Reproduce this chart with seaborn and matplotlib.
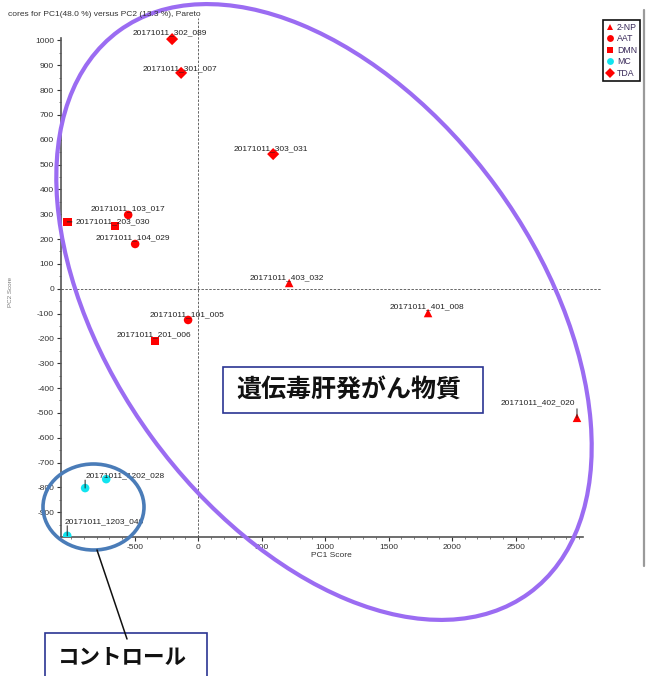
import matplotlib
matplotlib.use("Agg")
import matplotlib.pyplot as plt
from matplotlib.patches import Ellipse, Rectangle
from matplotlib.ticker import FixedLocator
import pandas as pd
import seaborn as sns

# ---- data -------------------------------------------------------------
sample_ids = ["20171011_302_089", "20171011_301_007", "20171011_303_031",
              "20171011_103_017", "20171011_203_030", "20171011_202_x",
              "20171011_104_029", "20171011_403_032", "20171011_401_008",
              "20171011_101_005", "20171011_201_006", "20171011_402_020",
              "20171011_1202_028", "20171011_1201_x", "20171011_1203_040"]
groups = ["TDA", "TDA", "TDA", "AAT", "DMN", "DMN", "AAT", "2-NP", "2-NP",
          "AAT", "DMN", "2-NP", "MC", "MC", "MC"]
pc1 = [-205, -134, 591, -551, -1031, -654, -496, 717, 1811,
       -79, -339, 2984, -890, -724, -1031]
pc2 = [1005, 869, 542, 297, 269, 253, 180, 23, -98,
       -126, -211, -520, -803, -767, -995]
shown_labels = ["20171011_302_089", "20171011_301_007", "20171011_303_031",
                "20171011_103_017", "20171011_203_030", "",
                "20171011_104_029", "20171011_403_032", "20171011_401_008",
                "20171011_101_005", "20171011_201_006", "20171011_402_020",
                "20171011_1202_028", "", "20171011_1203_040"]
group_order = ["2-NP", "AAT", "DMN", "MC", "TDA"]
y_ticks = [1000, 900, 800, 700, 600, 500, 400, 300, 200, 100, 0,
           -100, -200, -300, -400, -500, -600, -700, -800, -900]
x_ticks = [-500, 0, 500, 1000, 1500, 2000, 2500]

df = pd.DataFrame({"sample": sample_ids, "group": groups,
                   "PC1": pc1, "PC2": pc2, "label": shown_labels})

# ---- style ------------------------------------------------------------
sns.set_style("white")
plt.rcParams["font.family"] = ["Liberation Sans", "DejaVu Sans"]
plt.rcParams["axes.unicode_minus"] = False
jp_font = ["Noto Sans CJK JP", "DejaVu Sans"]

W, H = 652, 676
fig = plt.figure(figsize=(W / 100, H / 100), dpi=100)
fig.patch.set_facecolor("white")

# main score plot, placed in pixel terms
x0, x1, y0, y1 = 61, 602, 18, 537
ax = fig.add_axes([x0 / W, 1 - y1 / H, (x1 - x0) / W, (y1 - y0) / H])

palette = {"2-NP": "#ff0000", "AAT": "#ff0000", "DMN": "#ff0000",
           "MC": "#11e4ef", "TDA": "#ff0000"}
markers = {"2-NP": "^", "AAT": "o", "DMN": "s", "MC": "o", "TDA": "D"}

sns.scatterplot(data=df, x="PC1", y="PC2", hue="group", style="group",
                hue_order=group_order, style_order=group_order,
                palette=palette, markers=markers, s=38, linewidth=0,
                ax=ax, zorder=3)

ax.set_xlim(-1080, 3181)
ax.set_ylim(-1000, 1090)
ax.xaxis.set_major_locator(FixedLocator(x_ticks))
ax.yaxis.set_major_locator(FixedLocator(y_ticks))
ax.xaxis.set_minor_locator(FixedLocator(list(range(-1000, 3001, 100))))
ax.yaxis.set_minor_locator(FixedLocator(list(range(-950, 1001, 50))))
ax.tick_params(axis="both", which="major", labelsize=6, colors="#333333",
               length=3, width=0.8, direction="out", pad=2)
ax.tick_params(axis="both", which="minor", length=1.6, width=0.6,
               colors="#666666", direction="out")
ax.tick_params(axis="x", which="both", bottom=True)
ax.tick_params(axis="y", which="both", left=True)

for side in ["top", "right"]:
    ax.spines[side].set_visible(False)
for side in ["left", "bottom"]:
    ax.spines[side].set_color("#555555")
    ax.spines[side].set_linewidth(1.2)
ax.spines["bottom"].set_bounds(-1080, 3030)
ax.spines["left"].set_bounds(-1000, 1010)

ax.axhline(0, color="#666666", lw=0.7, ls=(0, (2.5, 1.5)), zorder=1)
ax.axvline(0, color="#666666", lw=0.7, ls=(0, (2.5, 1.5)), zorder=1)

ax.set_xlabel("PC1 Score", fontsize=6, color="#333333", labelpad=1)
ax.set_ylabel("")

# sample labels
px = 0.72  # points per pixel
centered = {
    "20171011_302_089": (-2, 6), "20171011_301_007": (-1, 4),
    "20171011_303_031": (-2, 5), "20171011_103_017": (0, 6),
    "20171011_104_029": (-2, 6), "20171011_403_032": (-2, 5),
    "20171011_401_008": (-1, 6), "20171011_101_005": (-1, 5),
    "20171011_201_006": (-1, 6),
}
lbl_kw = dict(fontsize=6, color="#222222", textcoords="offset points", zorder=4)
for _, r in df.iterrows():
    name = r["label"]
    if not name:
        continue
    xy = (r["PC1"], r["PC2"])
    if name in centered:
        dx, dy = centered[name]
        ax.annotate(name, xy, xytext=(dx * px, dy * px), ha="center",
                    va="center", **lbl_kw)
    elif name == "20171011_203_030":
        ax.annotate(name, xy, xytext=(8 * px, 0), ha="left", va="center",
                    arrowprops=dict(arrowstyle="-", color="#222222", lw=0.7,
                                    shrinkA=0, shrinkB=0), **lbl_kw)
    elif name == "20171011_402_020":
        ax.annotate(name, xy, xytext=(-2 * px, 15 * px), ha="right",
                    va="center", **lbl_kw)
        ax.annotate("", xy, xytext=(0, 9 * px), textcoords="offset points",
                    arrowprops=dict(arrowstyle="-", color="#222222", lw=0.7,
                                    shrinkA=0, shrinkB=0))
    else:
        dx = 0 if name == "20171011_1202_028" else -3
        dy = 12 if name == "20171011_1202_028" else 14
        ax.annotate(name, xy, xytext=(dx * px, dy * px), ha="left",
                    va="center", **lbl_kw)
        ax.annotate("", xy, xytext=(0, (dy - 4) * px),
                    textcoords="offset points",
                    arrowprops=dict(arrowstyle="-", color="#222222", lw=0.7,
                                    shrinkA=0, shrinkB=0))

# legend box at the top right
sns.move_legend(ax, "upper left", bbox_to_anchor=(603 / W, 1 - 20 / H),
                bbox_transform=fig.transFigure, title=None, frameon=True,
                fontsize=6.3, markerscale=0.8, handlelength=1.0,
                handletextpad=0.3, labelspacing=0.3, borderpad=0.3,
                borderaxespad=0, fancybox=False, edgecolor="#111111",
                framealpha=1)
leg = ax.get_legend()
leg.get_frame().set_linewidth(1.2)
for t in leg.get_texts():
    t.set_color("#3a2a5a")

# ---- overlay in pixel coordinates ------------------------------------
ov = fig.add_axes([0, 0, 1, 1], zorder=10)
ov.set_xlim(0, W)
ov.set_ylim(H, 0)
ov.axis("off")
ov.patch.set_alpha(0)

ov.text(8, 15, "cores for PC1(48.0 %) versus PC2 (13.3 %), Pareto",
        fontsize=6, color="#333333", ha="left", va="center")
ov.text(10, 292, "PC2 Score", fontsize=4.5, color="#777777", rotation=90,
        ha="center", va="center")
ov.plot([644, 644], [10, 566], color="#9a9a9a", lw=1.6)

# grouping marks
ov.add_patch(Ellipse((324, 312), 696, 426, angle=53.9, fill=False,
                     edgecolor="#9b6cf2", lw=3.0))
ov.add_patch(Ellipse((93.5, 507), 101, 86, fill=False,
                     edgecolor="#4a7cb8", lw=2.6))
ov.plot([97, 127], [550, 639], color="#111111", lw=1.1)

ov.add_patch(Rectangle((223, 367), 260, 46, fill=True, facecolor="white",
                       edgecolor="#2b3592", lw=1.2))
ov.text(349, 390.5, "遺伝毒肝発がん物質", family=jp_font, fontsize=18,
        fontweight="bold", color="#111111", ha="center", va="center")

ov.add_patch(Rectangle((45, 633), 162, 60, fill=True, facecolor="white",
                       edgecolor="#2b3592", lw=1.2, clip_on=False))
ov.text(122, 657, "コントロール", family=jp_font, fontsize=15.5,
        fontweight="bold", color="#111111", ha="center", va="center")

fig.savefig("out.png", dpi=100)
